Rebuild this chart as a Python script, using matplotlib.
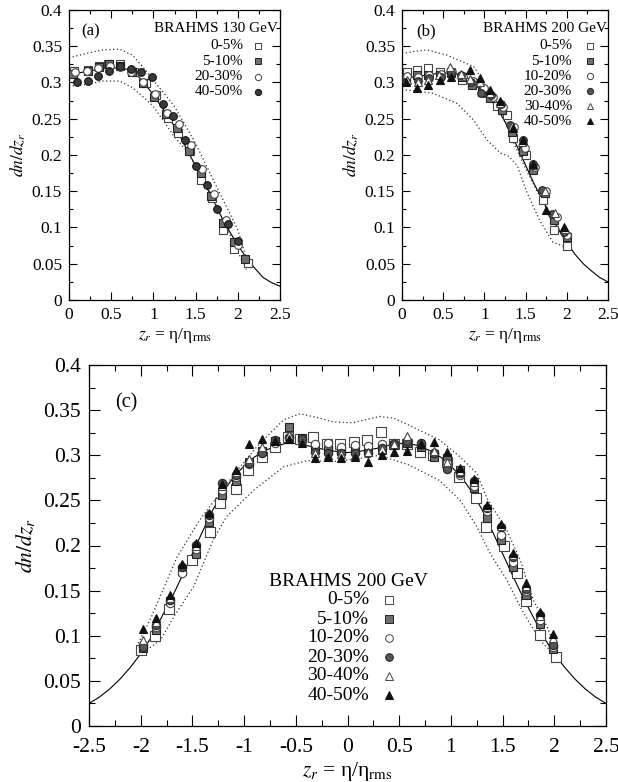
import matplotlib
matplotlib.use("Agg")
import matplotlib.pyplot as plt
from matplotlib.ticker import MultipleLocator, FixedLocator, FixedFormatter

plt.rcParams['font.family'] = ['Liberation Serif', 'DejaVu Serif']
plt.rcParams['mathtext.fontset'] = 'stix'

# ---------------- Panel (a): BRAHMS 130 GeV ----------------
a_line_x = [0.0, 0.1, 0.2, 0.3, 0.4, 0.5, 0.6, 0.7, 0.8, 0.9, 1.0, 1.1, 1.2, 1.3, 1.4, 1.5,
            1.6, 1.7, 1.8, 1.9, 2.0, 2.1, 2.2, 2.3, 2.4, 2.5]
a_line_y = [0.312, 0.313, 0.315, 0.317, 0.319, 0.320, 0.320, 0.318, 0.311, 0.298, 0.283,
            0.266, 0.249, 0.229, 0.207, 0.185, 0.162, 0.140, 0.116, 0.095, 0.076, 0.058,
            0.044, 0.031, 0.024, 0.019]
a_up_x = [0.0, 0.2, 0.4, 0.6, 0.75, 0.9, 1.0, 1.25, 1.5, 1.75, 2.0, 2.12]
a_up_y = [0.334, 0.340, 0.345, 0.346, 0.338, 0.318, 0.303, 0.267, 0.216, 0.156, 0.097, 0.050]
a_lo_x = [0.0, 0.2, 0.4, 0.6, 0.75, 0.9, 1.0, 1.25, 1.4, 1.64, 1.88, 2.10]
a_lo_y = [0.295, 0.297, 0.302, 0.302, 0.293, 0.278, 0.267, 0.225, 0.205, 0.156, 0.097, 0.042]

a_labels = ['0-5%', '5-10%', '20-30%', '40-50%']
a_x0 = [0.06, 0.22, 0.35, 0.46, 0.61, 0.77, 0.91, 1.03, 1.17, 1.29, 1.43, 1.56, 1.69, 1.83, 1.96, 2.12]
a_y0 = [0.316, 0.317, 0.323, 0.326, 0.326, 0.314, 0.299, 0.283, 0.251, 0.230, 0.206, 0.166, 0.140, 0.097, 0.071, 0.051]
a_x1 = [0.05, 0.22, 0.35, 0.47, 0.60, 0.75, 0.88, 1.01, 1.15, 1.28, 1.42, 1.56, 1.68, 1.82, 1.95, 2.09]
a_y1 = [0.312, 0.316, 0.322, 0.326, 0.323, 0.315, 0.299, 0.280, 0.257, 0.237, 0.205, 0.175, 0.143, 0.106, 0.080, 0.057]
a_x2 = [0.07, 0.21, 0.34, 0.48, 0.61, 0.74, 0.88, 1.02, 1.16, 1.30, 1.44, 1.58, 1.72, 1.86, 2.00]
a_y2 = [0.314, 0.316, 0.320, 0.323, 0.322, 0.315, 0.300, 0.284, 0.258, 0.243, 0.214, 0.180, 0.146, 0.110, 0.076]
a_x3 = [0.09, 0.22, 0.34, 0.47, 0.60, 0.73, 0.85, 0.98, 1.11, 1.23, 1.37, 1.50, 1.63, 1.75, 1.88, 2.00]
a_y3 = [0.301, 0.302, 0.309, 0.316, 0.323, 0.319, 0.315, 0.308, 0.270, 0.254, 0.221, 0.185, 0.159, 0.126, 0.105, 0.081]

# ---------------- Panel (b): BRAHMS 200 GeV ----------------
b_line_x = [0.0, 0.1, 0.2, 0.3, 0.4, 0.5, 0.6, 0.7, 0.8, 0.9, 1.0, 1.1, 1.2, 1.3, 1.4, 1.5,
            1.6, 1.7, 1.8, 1.9, 2.0, 2.1, 2.2, 2.3, 2.4, 2.5]
b_line_y = [0.305, 0.307, 0.309, 0.310, 0.312, 0.313, 0.313, 0.311, 0.306, 0.298, 0.287,
            0.273, 0.256, 0.235, 0.211, 0.186, 0.161, 0.139, 0.117, 0.097, 0.079, 0.063,
            0.050, 0.040, 0.031, 0.025]
b_up_x = [0.0, 0.15, 0.3, 0.54, 0.87, 1.03, 1.19, 1.35, 1.51, 1.67, 1.83, 2.0]
b_up_y = [0.340, 0.343, 0.345, 0.338, 0.322, 0.294, 0.267, 0.218, 0.179, 0.143, 0.110, 0.083]
b_lo_x = [0.0, 0.2, 0.38, 0.67, 0.87, 1.03, 1.19, 1.30, 1.40, 1.51, 1.67, 1.83, 1.96]
b_lo_y = [0.290, 0.288, 0.285, 0.271, 0.248, 0.221, 0.203, 0.198, 0.185, 0.150, 0.110, 0.080, 0.074]

b_labels = ['0-5%', '5-10%', '10-20%', '20-30%', '30-40%', '40-50%']
b_x0 = [0.06, 0.18, 0.32, 0.46, 0.60, 0.73, 0.87, 1.01, 1.15, 1.27, 1.35, 1.51, 1.59, 1.71, 1.85, 2.00]
b_y0 = [0.315, 0.317, 0.320, 0.315, 0.314, 0.303, 0.299, 0.285, 0.267, 0.255, 0.223, 0.200, 0.182, 0.138, 0.097, 0.074]
b_x1 = [0.05, 0.18, 0.32, 0.46, 0.60, 0.73, 0.85, 0.97, 1.07, 1.21, 1.33, 1.47, 1.59, 1.73, 1.85, 2.00]
b_y1 = [0.306, 0.310, 0.310, 0.310, 0.313, 0.308, 0.297, 0.287, 0.278, 0.262, 0.232, 0.205, 0.179, 0.147, 0.110, 0.087]
b_x2 = [0.06, 0.19, 0.33, 0.47, 0.61, 0.74, 0.86, 0.99, 1.10, 1.23, 1.36, 1.49, 1.62, 1.75, 1.88, 2.00]
b_y2 = [0.309, 0.308, 0.311, 0.312, 0.315, 0.309, 0.302, 0.292, 0.280, 0.266, 0.238, 0.210, 0.183, 0.150, 0.114, 0.090]
b_x3 = [0.05, 0.19, 0.33, 0.47, 0.59, 0.72, 0.84, 0.96, 1.08, 1.20, 1.31, 1.47, 1.59, 1.70, 1.82, 1.97]
b_y3 = [0.300, 0.302, 0.306, 0.307, 0.313, 0.310, 0.300, 0.286, 0.283, 0.271, 0.241, 0.221, 0.188, 0.152, 0.118, 0.094]
b_x4 = [0.06, 0.19, 0.32, 0.45, 0.58, 0.71, 0.83, 0.95, 1.07, 1.19, 1.33, 1.46, 1.59, 1.73, 1.86, 1.98]
b_y4 = [0.304, 0.300, 0.304, 0.310, 0.322, 0.312, 0.305, 0.300, 0.285, 0.272, 0.240, 0.218, 0.186, 0.150, 0.120, 0.098]
b_x5 = [0.05, 0.18, 0.32, 0.46, 0.60, 0.83, 0.95, 1.07, 1.19, 1.35, 1.47, 1.59, 1.75, 1.96]
b_y5 = [0.301, 0.292, 0.297, 0.303, 0.308, 0.317, 0.306, 0.290, 0.274, 0.237, 0.221, 0.188, 0.124, 0.101]

# ---------------- Panel (c): BRAHMS 200 GeV, full range ----------------
c_line_x = [-2.5, -2.4, -2.3, -2.2, -2.1, -2.0, -1.9, -1.8, -1.7, -1.6, -1.5, -1.4, -1.3, -1.2,
            -1.1, -1.0, -0.9, -0.8, -0.7, -0.6, -0.5, -0.4, -0.3, -0.2, -0.1, 0.0, 0.1, 0.2,
            0.3, 0.4, 0.5, 0.6, 0.7, 0.8, 0.9, 1.0, 1.1, 1.2, 1.3, 1.4, 1.5, 1.6, 1.7, 1.8,
            1.9, 2.0, 2.1, 2.2, 2.3, 2.4, 2.5]
c_line_y = [0.025, 0.032, 0.041, 0.052, 0.065, 0.080, 0.098, 0.120, 0.142, 0.166, 0.191, 0.216,
            0.240, 0.260, 0.276, 0.288, 0.298, 0.305, 0.310, 0.313, 0.313, 0.311, 0.308, 0.306,
            0.304, 0.303, 0.304, 0.306, 0.308, 0.311, 0.313, 0.313, 0.310, 0.305, 0.298, 0.288,
            0.276, 0.260, 0.240, 0.216, 0.191, 0.166, 0.142, 0.120, 0.098, 0.080, 0.065, 0.052,
            0.041, 0.032, 0.025]
c_up_x = [-2.04, -1.90, -1.75, -1.65, -1.43, -1.26, -1.04, -0.85, -0.62, -0.46, -0.30, -0.14,
          0.05, 0.31, 0.45, 0.60, 0.89, 1.09, 1.25, 1.35, 1.54, 1.67, 1.80, 1.93, 2.02]
c_up_y = [0.088, 0.120, 0.160, 0.187, 0.228, 0.254, 0.287, 0.313, 0.339, 0.346, 0.342, 0.337,
          0.336, 0.343, 0.341, 0.333, 0.317, 0.298, 0.280, 0.252, 0.217, 0.184, 0.139, 0.110, 0.084]
c_lo_x = [-1.97, -1.81, -1.68, -1.49, -1.30, -1.17, -0.91, -0.62, -0.39, -0.14, 0.10, 0.31,
          0.60, 0.89, 1.09, 1.25, 1.38, 1.54, 1.67, 1.86, 2.02]
c_lo_y = [0.082, 0.095, 0.121, 0.154, 0.206, 0.232, 0.261, 0.287, 0.294, 0.293, 0.296, 0.300,
          0.289, 0.272, 0.250, 0.221, 0.191, 0.162, 0.132, 0.095, 0.077]

c_labels = ['0-5%', '5-10%', '10-20%', '20-30%', '30-40%', '40-50%']
c_x0 = [-2.00, -1.86, -1.73, -1.50, -1.33, -1.23, -1.08, -0.96, -0.83, -0.70, -0.58, -0.46,
        -0.33, -0.20, -0.07, 0.06, 0.19, 0.32, 0.45, 0.58, 0.70, 0.83, 0.96, 1.08, 1.24, 1.34,
        1.51, 1.64, 1.73, 1.86, 2.02]
c_y0 = [0.084, 0.100, 0.130, 0.184, 0.215, 0.247, 0.263, 0.284, 0.298, 0.309, 0.320, 0.318,
        0.320, 0.312, 0.312, 0.315, 0.317, 0.326, 0.313, 0.312, 0.304, 0.300, 0.292, 0.276,
        0.253, 0.221, 0.199, 0.170, 0.138, 0.101, 0.077]
c_x = [-1.98, -1.85, -1.72, -1.60, -1.47, -1.34, -1.21, -1.08, -0.95, -0.83, -0.70, -0.57,
       -0.44, -0.31, -0.19, -0.06, 0.07, 0.20, 0.33, 0.45, 0.58, 0.71, 0.84, 0.96, 1.09, 1.22,
       1.35, 1.48, 1.60, 1.73, 1.86, 1.99]
c_y1 = [0.086, 0.106, 0.138, 0.172, 0.191, 0.226, 0.256, 0.272, 0.293, 0.305, 0.316, 0.331,
        0.319, 0.309, 0.306, 0.305, 0.306, 0.307, 0.306, 0.311, 0.314, 0.309, 0.298, 0.297,
        0.284, 0.264, 0.230, 0.206, 0.176, 0.145, 0.113, 0.085]
c_y2 = [0.090, 0.110, 0.136, 0.170, 0.196, 0.230, 0.262, 0.276, 0.290, 0.304, 0.314, 0.320,
        0.316, 0.312, 0.314, 0.309, 0.311, 0.310, 0.313, 0.314, 0.315, 0.311, 0.303, 0.291,
        0.278, 0.266, 0.238, 0.212, 0.182, 0.150, 0.118, 0.088]
c_y3 = [0.088, 0.112, 0.140, 0.176, 0.201, 0.234, 0.269, 0.278, 0.291, 0.303, 0.317, 0.319,
        0.318, 0.304, 0.303, 0.302, 0.303, 0.303, 0.308, 0.313, 0.316, 0.314, 0.302, 0.285,
        0.280, 0.272, 0.241, 0.220, 0.187, 0.152, 0.123, 0.090]
c_y4 = [0.095, 0.115, 0.142, 0.178, 0.200, 0.235, 0.266, 0.281, 0.296, 0.309, 0.317, 0.322,
        0.316, 0.302, 0.300, 0.301, 0.300, 0.304, 0.307, 0.313, 0.321, 0.312, 0.305, 0.293,
        0.282, 0.270, 0.243, 0.222, 0.190, 0.155, 0.122, 0.098]
c_y5 = [0.108, 0.120, 0.145, 0.180, 0.203, 0.236, 0.268, 0.284, 0.313, 0.318, 0.316, 0.318,
        0.314, 0.297, 0.298, 0.297, 0.298, 0.292, 0.300, 0.304, 0.305, 0.313, 0.315, 0.304,
        0.286, 0.274, 0.245, 0.224, 0.192, 0.158, 0.126, 0.102]

# ---------------- styles ----------------
STY = {
    '0-5%':   dict(marker='s', mfc='white', mec='#444444'),
    '5-10%':  dict(marker='s', mfc='#6e6e6e', mec='#222222'),
    '10-20%': dict(marker='o', mfc='white', mec='#444444'),
    '20-30%': dict(marker='o', mfc='#555555', mec='#222222'),
    '30-40%': dict(marker='^', mfc='white', mec='#444444'),
    '40-50%': dict(marker='^', mfc='#111111', mec='#111111'),
}
STY_A = dict(STY)
STY_A['20-30%'] = dict(marker='o', mfc='white', mec='#444444')
STY_A['40-50%'] = dict(marker='o', mfc='#3a3a3a', mec='#111111')

fig = plt.figure(figsize=(6.18, 7.82), dpi=100)
W, H = 618.0, 782.0

def make_ax(l, r, t, b):
    return fig.add_axes([l / W, 1 - b / H, (r - l) / W, (b - t) / H])

ax_a = make_ax(69, 280, 10, 300)
ax_b = make_ax(402, 608, 10, 300)
ax_c = make_ax(89, 606, 365, 726)

def style_axis(ax, xlim, xticks, xlabels, fs):
    ax.set_xlim(*xlim)
    ax.set_ylim(0, 0.4)
    ax.xaxis.set_major_locator(FixedLocator(xticks))
    ax.xaxis.set_major_formatter(FixedFormatter(xlabels))
    ax.xaxis.set_minor_locator(MultipleLocator(0.25))
    yt = [0, 0.05, 0.1, 0.15, 0.2, 0.25, 0.3, 0.35, 0.4]
    ax.yaxis.set_major_locator(FixedLocator(yt))
    ax.yaxis.set_major_formatter(FixedFormatter(['0', '0.05', '0.1', '0.15', '0.2', '0.25', '0.3', '0.35', '0.4']))
    ax.yaxis.set_minor_locator(MultipleLocator(0.025))
    ax.tick_params(which='both', direction='in', top=True, right=True, labelsize=fs, width=0.8)
    ax.tick_params(which='major', length=6, pad=5)
    ax.tick_params(which='minor', length=3)
    for s in ax.spines.values():
        s.set_linewidth(0.9)

def draw_curves(ax, lx, ly, ux, uy, dx, dy):
    ax.plot(lx, ly, color='black', lw=0.8, zorder=2)
    ax.plot(ux, uy, color='#333333', lw=0.9, ls=(0, (1, 2)), zorder=2)
    ax.plot(dx, dy, color='#333333', lw=0.9, ls=(0, (1, 2)), zorder=2)

def draw_series(ax, xs, ys, label, ms, sty):
    st = sty[label]
    ax.plot(xs, ys, ls='none', marker=st['marker'], ms=ms, mfc=st['mfc'], mec=st['mec'], mew=0.8, zorder=3)

def draw_legend(ax, title, labels, title_xy, text_x, mark_x, y0, dy, fs, ms, sty):
    ax.text(title_xy[0], title_xy[1], title, transform=ax.transAxes, ha='right', va='center', fontsize=fs)
    for i, lab in enumerate(labels):
        y = y0 - i * dy
        ax.text(text_x, y, lab, transform=ax.transAxes, ha='right', va='center', fontsize=fs)
        st = sty[lab]
        ax.plot([mark_x], [y], transform=ax.transAxes, ls='none', marker=st['marker'], ms=ms,
                mfc=st['mfc'], mec=st['mec'], mew=0.7, clip_on=False)

# panel (a)
style_axis(ax_a, (0, 2.5), [0, 0.5, 1, 1.5, 2, 2.5], ['0', '0.5', '1', '1.5', '2', '2.5'], 12.5)
draw_curves(ax_a, a_line_x, a_line_y, a_up_x, a_up_y, a_lo_x, a_lo_y)
for xs, ys, lab in zip([a_x0, a_x1, a_x2, a_x3], [a_y0, a_y1, a_y2, a_y3], a_labels):
    draw_series(ax_a, xs, ys, lab, 5.5, STY_A)
draw_legend(ax_a, 'BRAHMS 130 GeV', a_labels, (0.99, (300 - 29) / 290.0),
            (243 - 69) / 211.0, (258 - 69) / 211.0, (300 - 46) / 290.0, 15.3 / 290.0, 11, 4.5, STY_A)
ax_a.text(0.06, (300 - 31) / 290.0, '(a)', transform=ax_a.transAxes, fontsize=12, va='center')
ax_a.set_ylabel(r'$dn/dz_r$', fontsize=12.5, labelpad=3)
ax_a.set_xlabel(r'$z_r$ = η/η$_{\rm rms}$', fontsize=12.5, labelpad=2)

# panel (b)
style_axis(ax_b, (0, 2.5), [0, 0.5, 1, 1.5, 2, 2.5], ['0', '0.5', '1', '1.5', '2', '2.5'], 12.5)
draw_curves(ax_b, b_line_x, b_line_y, b_up_x, b_up_y, b_lo_x, b_lo_y)
for xs, ys, lab in zip([b_x0, b_x1, b_x2, b_x3, b_x4, b_x5], [b_y0, b_y1, b_y2, b_y3, b_y4, b_y5], b_labels):
    draw_series(ax_b, xs, ys, lab, 5.5, STY)
draw_legend(ax_b, 'BRAHMS 200 GeV', b_labels, (0.995, (300 - 29) / 290.0),
            (572 - 402) / 206.0, (590 - 402) / 206.0, (300 - 46) / 290.0, 15.1 / 290.0, 11, 4.5, STY)
ax_b.text(0.07, (300 - 31) / 290.0, '(b)', transform=ax_b.transAxes, fontsize=12, va='center')
ax_b.set_ylabel(r'$dn/dz_r$', fontsize=12.5, labelpad=3)
ax_b.set_xlabel(r'$z_r$ = η/η$_{\rm rms}$', fontsize=12.5, labelpad=2)

# panel (c)
style_axis(ax_c, (-2.5, 2.5), [-2.5, -2, -1.5, -1, -0.5, 0, 0.5, 1, 1.5, 2, 2.5],
           ['-2.5', '-2', '-1.5', '-1', '-0.5', '0', '0.5', '1', '1.5', '2', '2.5'], 15.5)
ax_c.tick_params(which='major', length=8)
ax_c.tick_params(which='minor', length=4)
ax_c.tick_params(axis='x', which='major', pad=9)
ax_c.tick_params(axis='y', which='major', pad=6)
draw_curves(ax_c, c_line_x, c_line_y, c_up_x, c_up_y, c_lo_x, c_lo_y)
draw_series(ax_c, c_x0, c_y0, '0-5%', 6.5, STY)
for ys, lab in zip([c_y1, c_y2, c_y3, c_y4, c_y5], c_labels[1:]):
    draw_series(ax_c, c_x, ys, lab, 6.0, STY)
draw_legend(ax_c, 'BRAHMS 200 GeV', c_labels, ((428 - 89) / 517.0, (726 - 582) / 361.0),
            (369 - 89) / 517.0, (389 - 89) / 517.0, (726 - 600) / 361.0, 19.0 / 361.0, 14, 5.5, STY)
ax_c.text(0.05, (726 - 403) / 361.0, '(c)', transform=ax_c.transAxes, fontsize=14.5, va='center')
ax_c.set_ylabel(r'$dn/dz_r$', fontsize=15.5, labelpad=4)
ax_c.set_xlabel(r'$z_r$ = η/η$_{\rm rms}$', fontsize=15.5, labelpad=2)

fig.savefig('out.png', dpi=100)
